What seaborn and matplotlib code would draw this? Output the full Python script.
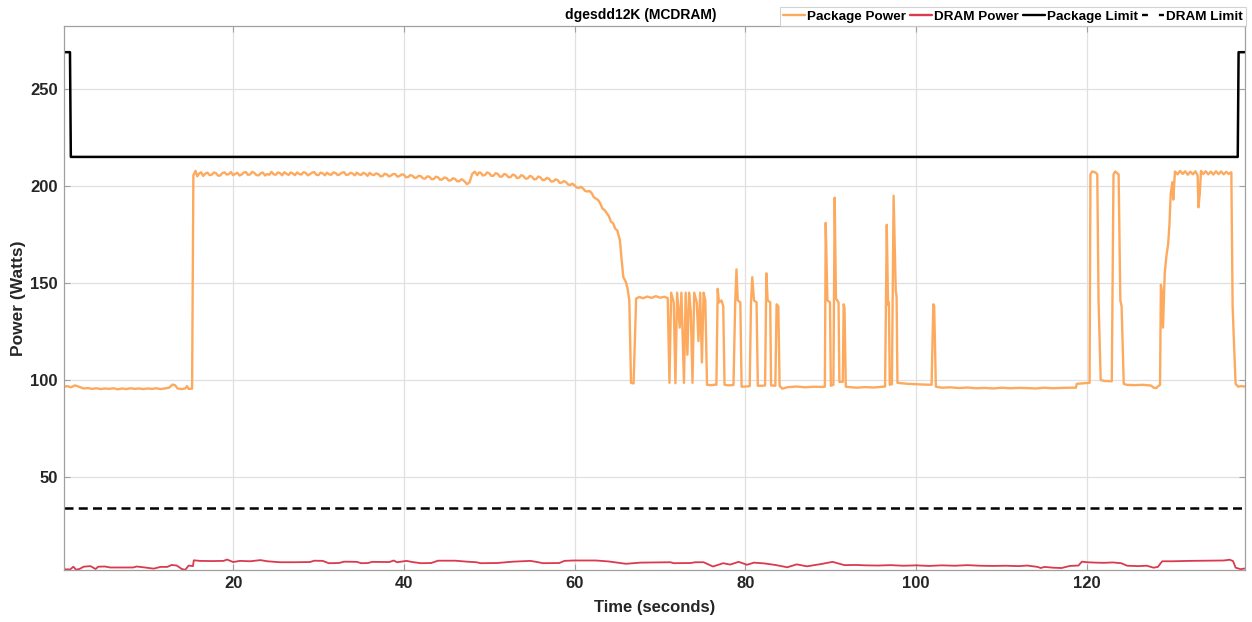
import numpy as np
import pandas as pd
import matplotlib
matplotlib.use("Agg")
import matplotlib.pyplot as plt
import seaborn as sns
from matplotlib.lines import Line2D

# ---------------- data, (time s, watts) ----------------
pkg_idle_start = [
    (0.2, 96.5), (0.6, 96.8), (1.0, 96.2), (1.5, 97.2), (2.0, 96.4), (2.5, 95.6), (3.0, 95.8),
    (3.5, 95.4), (4.0, 95.7), (4.5, 95.3), (5.0, 95.6), (5.5, 95.4), (6.0, 95.7), (6.5, 95.2),
    (7.0, 95.6), (7.5, 95.3), (8.0, 95.7), (8.5, 95.4), (9.0, 95.6), (9.5, 95.3), (10.0, 95.6),
    (10.5, 95.4), (11.0, 95.7), (11.5, 95.3), (12.0, 95.6), (12.5, 96.0), (12.9, 97.6),
    (13.2, 97.3), (13.5, 95.6), (14.0, 95.3), (14.4, 95.6), (14.6, 96.8), (14.8, 95.4), (15.2, 95.5),
]
pkg_plateau = [
    (15.35, 205.5), (15.6, 207.8), (15.8, 205.0), (16.0, 206.3), (16.25, 207.1), (16.5, 205.2),
    (16.75, 206.4), (17.0, 206.9), (17.25, 205.6), (17.5, 205.8), (17.75, 207.0), (18.0, 206.6),
    (18.25, 205.3), (18.5, 205.4), (18.75, 206.7), (19.0, 207.0), (19.25, 205.9), (19.5, 206.1),
    (19.75, 207.2), (20.0, 205.6), (20.25, 206.2), (20.5, 206.8), (20.75, 205.4), (21.0, 205.9),
    (21.25, 206.9), (21.5, 207.2), (21.75, 205.7), (22.0, 206.0), (22.25, 207.3), (22.5, 206.7),
    (22.75, 205.6), (23.0, 205.5), (23.25, 206.6), (23.5, 206.9), (23.75, 205.4), (24.0, 206.2),
    (24.25, 205.8), (24.5, 207.3), (24.75, 206.0), (25.0, 205.8), (25.25, 207.0), (25.5, 206.6),
    (25.75, 205.5), (26.0, 207.1), (26.25, 206.3), (26.5, 205.7), (26.75, 207.0), (27.0, 206.4),
    (27.25, 205.6), (27.5, 207.0), (27.75, 206.2), (28.0, 205.9), (28.25, 207.1), (28.5, 206.8),
    (28.75, 205.5), (29.0, 206.1), (29.25, 206.9), (29.5, 207.2), (29.75, 205.8), (30.0, 205.6),
    (30.25, 206.9), (30.5, 206.5), (30.75, 205.5), (31.0, 206.9), (31.25, 206.0), (31.5, 205.8),
    (31.75, 207.0), (32.0, 206.7), (32.25, 205.6), (32.5, 206.0), (32.75, 206.9), (33.0, 207.1),
    (33.25, 205.7), (33.5, 205.9), (33.75, 206.8), (34.0, 206.4), (34.25, 205.5), (34.5, 206.9),
    (34.75, 206.0), (35.0, 205.7), (35.25, 206.8), (35.5, 206.3), (35.75, 205.2), (36.0, 206.8),
    (36.25, 205.9), (36.5, 205.6), (36.75, 206.5), (37.0, 206.2), (37.25, 205.0), (37.5, 205.1),
    (37.75, 206.3), (38.0, 206.0), (38.25, 204.9), (38.5, 205.4), (38.75, 206.2), (39.0, 206.1),
    (39.25, 204.8), (39.5, 205.2), (39.75, 206.0), (40.0, 205.8), (40.25, 204.5), (40.5, 204.6),
    (40.75, 205.6), (41.0, 205.3), (41.25, 204.2), (41.5, 204.4), (41.75, 205.3), (42.0, 205.0),
    (42.25, 203.9), (42.5, 203.8), (42.75, 205.0), (43.0, 204.7), (43.25, 203.5), (43.5, 203.6),
    (43.75, 204.8), (44.0, 204.5), (44.25, 203.2), (44.5, 203.4), (44.75, 204.4), (45.0, 204.1),
    (45.25, 202.8), (45.5, 202.9), (45.75, 204.0), (46.0, 203.6), (46.25, 202.4), (46.5, 202.5),
    (46.75, 203.5), (47.0, 202.8), (47.2, 201.9), (47.4, 200.9), (47.7, 202.0), (48.0, 206.2),
    (48.3, 207.4), (48.6, 205.6), (48.8, 207.0), (49.0, 206.8), (49.25, 205.4), (49.5, 205.7),
    (49.75, 207.0), (50.0, 206.5), (50.25, 205.2), (50.5, 205.3), (50.75, 206.6), (51.0, 206.2),
    (51.25, 204.8), (51.5, 204.9), (51.75, 206.2), (52.0, 205.8), (52.25, 204.5), (52.5, 204.6),
    (52.75, 205.9), (53.0, 205.5), (53.25, 204.1), (53.5, 204.3), (53.75, 205.6), (54.0, 205.1),
    (54.25, 203.8), (54.5, 203.9), (54.75, 205.2), (55.0, 204.8), (55.25, 203.4), (55.5, 203.6),
    (55.75, 204.9), (56.0, 204.4), (56.25, 203.0), (56.5, 203.2), (56.75, 204.2), (57.0, 203.7),
    (57.25, 202.3), (57.5, 202.4), (57.75, 203.4), (58.0, 203.1), (58.25, 201.6), (58.5, 201.8),
    (58.75, 202.6), (59.0, 201.9), (59.25, 200.7), (59.5, 200.6), (59.75, 201.2), (60.0, 200.3),
    (60.25, 199.2), (60.5, 199.0), (60.75, 199.6), (61.0, 198.6), (61.25, 197.4), (61.5, 197.2),
    (61.75, 197.4), (62.0, 196.3), (62.25, 194.2), (62.5, 193.5), (62.75, 192.7), (63.0, 191.0),
    (63.25, 188.4), (63.5, 187.6), (63.75, 186.0), (64.0, 184.5), (64.25, 181.6), (64.5, 180.8),
    (64.75, 178.0), (65.0, 177.0), (65.3, 172.0), (65.5, 162.0), (65.7, 153.0), (66.0, 150.5),
    (66.2, 147.0), (66.4, 141.0),
]
pkg_bursts_a = [
    (66.6, 98.5), (66.9, 98.2), (67.2, 142.0), (67.6, 142.8), (68.0, 142.1), (68.5, 143.0),
    (69.0, 142.3), (69.5, 143.2), (70.0, 142.4), (70.5, 142.9), (70.9, 142.2), (71.1, 98.5),
    (71.3, 145.0), (71.6, 140.0), (71.8, 98.3), (72.0, 145.0), (72.3, 127.0), (72.5, 145.0),
    (72.8, 98.5), (73.0, 145.0), (73.2, 113.0), (73.4, 145.0), (73.6, 135.0), (73.8, 98.5),
    (74.0, 145.0), (74.3, 140.0), (74.5, 120.0), (74.7, 145.0), (74.9, 109.0), (75.1, 145.0),
    (75.3, 141.0), (75.5, 97.5), (76.0, 97.3), (76.5, 97.6), (76.6, 97.5), (76.75, 147.0),
    (76.9, 140.0), (77.2, 141.0), (77.4, 138.0), (77.55, 97.5), (78.0, 97.2), (78.6, 97.4),
    (78.8, 140.0), (78.95, 157.0), (79.1, 141.0), (79.4, 140.0), (79.55, 96.5), (80.0, 96.6),
    (80.5, 96.8), (80.65, 140.0), (80.8, 153.0), (81.0, 141.0), (81.3, 140.0), (81.45, 97.0),
    (82.0, 97.0), (82.3, 97.2), (82.45, 155.0), (82.6, 141.0), (82.9, 140.0), (83.0, 97.2),
    (83.5, 97.0), (83.65, 139.0), (83.85, 138.0), (84.0, 97.0), (84.3, 95.5),
]
pkg_bursts_b = [
    (85.0, 96.3), (86.0, 96.6), (87.0, 96.2), (88.0, 96.5), (89.0, 96.4), (89.3, 96.5),
    (89.4, 181.0), (89.6, 141.0), (89.9, 140.0), (90.0, 97.0), (90.3, 97.5), (90.45, 194.0),
    (90.6, 142.0), (90.9, 140.0), (91.0, 99.0), (91.4, 99.0), (91.5, 139.0), (91.6, 137.0),
    (91.75, 96.5), (92.5, 96.2), (93.0, 96.0), (94.0, 96.3), (95.0, 96.1), (96.35, 96.6),
    (96.55, 180.0), (96.7, 138.7), (96.8, 140.0), (96.9, 97.5), (97.15, 97.8), (97.35, 195.0),
    (97.6, 146.0), (97.7, 143.0), (97.8, 98.5), (98.5, 98.2), (99.0, 98.0), (100.0, 97.8),
    (101.0, 97.6), (101.8, 97.5), (102.0, 139.0), (102.1, 138.0), (102.3, 96.5),
]
pkg_idle_mid = [
    (103.0, 96.0), (104.0, 96.2), (105.0, 95.8), (106.0, 96.1), (107.0, 95.7), (108.0, 95.9),
    (109.0, 95.6), (110.0, 96.0), (111.0, 95.7), (112.0, 95.9), (113.0, 95.8), (114.0, 95.6),
    (115.0, 96.0), (116.0, 95.7), (117.0, 95.9), (118.0, 96.0), (118.7, 96.0), (118.8, 98.0),
    (120.3, 98.5),
]
pkg_end = [
    (120.4, 206.0), (120.6, 207.5), (121.0, 207.0), (121.2, 206.0), (121.35, 141.0),
    (121.6, 100.0), (122.0, 99.5), (122.9, 99.3), (123.1, 206.0), (123.3, 207.5), (123.7, 206.0),
    (123.9, 141.0), (124.05, 138.0), (124.3, 98.0), (124.6, 97.5), (125.5, 97.3), (126.5, 97.5),
    (127.5, 97.1), (127.8, 96.0), (128.1, 95.8), (128.4, 97.0), (128.55, 97.5), (128.65, 149.0),
    (128.75, 146.0), (128.9, 127.0), (129.1, 155.0), (129.3, 164.0), (129.5, 170.0),
    (129.65, 180.0), (129.8, 196.0), (130.0, 202.0), (130.1, 193.0), (130.3, 207.5),
    (130.6, 206.0), (130.9, 207.8), (131.2, 206.2), (131.5, 207.6), (131.8, 205.8),
    (132.1, 207.4), (132.4, 206.0), (132.7, 207.6), (132.95, 205.5), (133.05, 189.0),
    (133.2, 196.0), (133.35, 207.8), (133.6, 206.2), (133.9, 207.6), (134.2, 206.0),
    (134.5, 207.4), (134.8, 205.9), (135.1, 207.6), (135.4, 206.1), (135.7, 207.5),
    (136.0, 206.0), (136.3, 207.3), (136.6, 206.2), (136.9, 207.1), (137.05, 138.0),
    (137.2, 120.0), (137.4, 98.0), (137.7, 96.5), (138.0, 96.8), (138.5, 96.6),
]

dram_first = [
    (0.2, 3.3), (0.35, 2.1), (0.6, 2.4), (0.9, 2.2), (1.3, 3.7), (1.6, 2.2), (2.0, 2.5),
    (2.5, 3.7), (3.3, 4.0), (3.9, 2.5), (4.2, 3.7), (5.0, 3.8), (5.6, 3.3), (7.0, 3.3),
    (8.3, 3.3), (8.7, 3.8), (9.5, 3.4), (10.7, 2.7), (11.5, 3.6), (12.3, 3.6), (12.8, 4.6),
    (13.4, 4.3), (14.0, 2.5), (14.4, 2.1), (14.8, 4.3), (15.3, 4.0),
]
dram_second = [
    (15.4, 7.0), (16.1, 6.7), (17.5, 6.6), (18.9, 6.7), (19.3, 7.4), (20.0, 6.1), (20.8, 6.7),
    (22.0, 6.5), (23.2, 7.1), (24.0, 6.5), (25.5, 6.0), (27.0, 6.0), (29.0, 6.1), (29.5, 6.8),
    (30.5, 6.7), (31.2, 5.5), (32.4, 5.6), (33.0, 6.3), (34.5, 6.2), (35.0, 5.5), (35.8, 5.6),
    (36.3, 6.2), (38.3, 6.1), (38.8, 6.9), (39.2, 6.0), (40.3, 6.7), (41.0, 6.1), (42.0, 5.5),
    (43.2, 5.6), (44.0, 6.8), (46.0, 6.8), (47.4, 6.3), (48.5, 6.0), (49.0, 5.5), (50.9, 5.6),
    (52.8, 6.3), (54.8, 6.7), (55.5, 6.2), (56.3, 5.5), (58.2, 5.6), (58.8, 6.7), (59.8, 6.9),
    (62.5, 6.9), (64.0, 6.4), (66.0, 5.2), (67.7, 5.8), (69.3, 5.9), (71.2, 6.0), (71.6, 5.5),
    (73.6, 5.6), (74.1, 6.0), (75.1, 6.0), (76.2, 3.8), (77.4, 5.5), (78.2, 4.8), (79.2, 6.2),
    (80.2, 4.7), (81.0, 5.8), (82.2, 5.4), (83.5, 4.6), (84.9, 3.4), (86.0, 4.9), (87.2, 3.9),
    (88.9, 5.1), (90.2, 6.2), (91.6, 4.5),
]
dram_third = [
    (93.0, 4.6), (94.0, 4.4), (95.5, 4.3), (97.0, 4.5), (98.5, 4.2), (100.0, 4.4), (101.5, 4.1),
    (103.0, 4.4), (104.5, 4.2), (106.0, 4.5), (107.5, 4.2), (109.0, 4.1), (110.5, 4.2),
    (112.0, 4.0), (113.0, 4.3), (114.2, 3.6), (114.6, 3.0), (115.0, 3.6), (116.0, 3.2),
    (117.0, 3.0), (118.0, 4.1), (119.0, 4.3), (119.4, 6.3), (120.0, 6.0), (121.0, 5.8),
    (122.0, 5.7), (123.0, 5.9), (124.0, 5.5), (124.7, 4.2), (126.0, 4.0), (127.0, 4.2),
    (127.8, 3.2), (128.3, 3.6), (128.8, 6.5), (130.0, 6.5), (132.0, 6.7), (134.0, 6.8),
    (136.0, 6.9), (136.7, 7.3), (137.1, 6.6), (137.4, 3.2), (138.0, 2.4), (138.5, 2.8),
]

limit_time = [0.2, 0.9, 1.0, 137.65, 137.75, 138.5]
pkg_limit = [269, 269, 215, 215, 269, 269]
dram_limit_time = [0.2, 138.5]
dram_limit = [34, 34]

title = "dgesdd12K (MCDRAM)"
xlabel = "Time (seconds)"
ylabel = "Power (Watts)"
xticks = [20, 40, 60, 80, 100, 120]
yticks = [50, 100, 150, 200, 250]
labels = ["Package Power", "DRAM Power", "Package Limit", "DRAM Limit"]

# ---------------- build tables ----------------
pkg_pts = pkg_idle_start + pkg_plateau + pkg_bursts_a + pkg_bursts_b + pkg_idle_mid + pkg_end
dram_pts = dram_first + dram_second + dram_third
pkg_df = pd.DataFrame(pkg_pts, columns=["t", "P"])
dram_df = pd.DataFrame(dram_pts, columns=["t", "P"])
plim_df = pd.DataFrame({"t": limit_time, "P": pkg_limit})
dlim_df = pd.DataFrame({"t": dram_limit_time, "P": dram_limit})

# ---------------- style ----------------
sns.set_theme(style="whitegrid")
plt.rcParams["font.family"] = ["Liberation Sans", "DejaVu Sans"]
plt.rcParams["font.weight"] = "bold"

C_PKG = "#FDAA5E"
C_DRAM = "#D93A4E"
TXT = "#262626"
DASH = (0, (3.6, 2.1))
DASH_LEG = (0, (2.5, 4.65))

fig = plt.figure(figsize=(12.52, 6.22), dpi=100)
ax = fig.add_axes([64 / 1252, 1 - 570 / 622, (1245 - 64) / 1252, (570 - 26) / 622])

sns.lineplot(data=pkg_df, x="t", y="P", ax=ax, color=C_PKG, linewidth=1.7,
             estimator=None, sort=False)
sns.lineplot(data=dram_df, x="t", y="P", ax=ax, color=C_DRAM, linewidth=1.3,
             estimator=None, sort=False)
sns.lineplot(data=plim_df, x="t", y="P", ax=ax, color="black", linewidth=1.8,
             estimator=None, sort=False)
sns.lineplot(data=dlim_df, x="t", y="P", ax=ax, color="black", linewidth=1.8,
             estimator=None, sort=False, linestyle=DASH)

ax.set_xlim(0.2, 138.5)
ax.set_ylim(2, 282.5)
ax.set_xticks(xticks)
ax.set_yticks(yticks)
ax.grid(True, color="#e0e0e0", linewidth=0.9)
for s in ax.spines.values():
    s.set_color("#a0a0a0")
    s.set_linewidth(0.9)
ax.tick_params(axis="both", direction="in", length=4, width=0.8, color="#a0a0a0",
               labelsize=12, labelcolor=TXT, top=True, right=True, bottom=True, left=True,
               pad=4.5)
for lab in ax.get_xticklabels() + ax.get_yticklabels():
    lab.set_fontweight("bold")

ax.set_xlabel(xlabel, fontsize=12, fontweight="bold", color=TXT, labelpad=6)
ax.set_ylabel(ylabel, fontsize=12.5, fontweight="bold", color=TXT, labelpad=3)
fig.text(641 / 1252, 1 - 15 / 622, title, ha="center", va="center",
         fontsize=10, fontweight="bold", color="black")

handles = [
    Line2D([], [], color=C_PKG, linewidth=1.7),
    Line2D([], [], color=C_DRAM, linewidth=1.7),
    Line2D([], [], color="black", linewidth=1.7),
    Line2D([], [], color="black", linewidth=1.7, linestyle=DASH_LEG),
]
leg = fig.legend(handles, labels, loc="lower right", ncol=4,
                 bbox_to_anchor=(1246 / 1252, 1 - 26 / 622),
                 frameon=True, fancybox=False, fontsize=9.7,
                 handlelength=1.63, handletextpad=0.15, columnspacing=0.3,
                 borderpad=0.25, borderaxespad=0.0)
leg.get_frame().set_edgecolor("#c8c8c8")
leg.get_frame().set_linewidth(0.8)
for t in leg.get_texts():
    t.set_fontweight("bold")
    t.set_color("black")

fig.savefig("out.png", dpi=100, facecolor="white")
